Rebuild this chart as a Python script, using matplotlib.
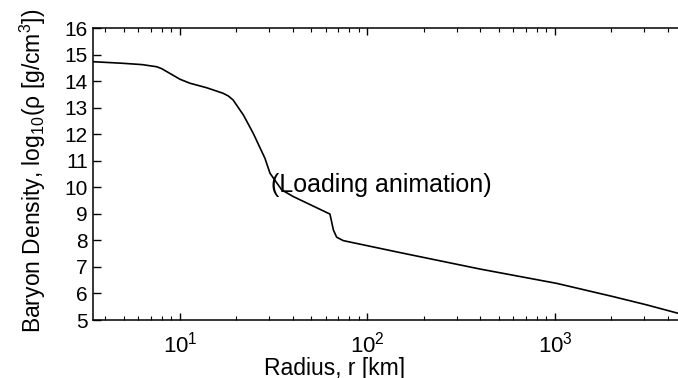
# Libraries:
import numpy as np
import matplotlib
matplotlib.use('Agg')
import matplotlib.pyplot as plt

# Plot configuration:
plt.rc('font', family='Liberation Sans')
plt.rc('mathtext', fontset='custom', rm='Liberation Sans', it='Liberation Sans', bf='Liberation Sans')
plt.rc('xtick', labelsize=16, direction='in')
plt.rc('ytick', labelsize=15, direction='in')
plt.rc('axes', labelsize=16.5, linewidth=1.1)

# Data (radius [km], log10 density [g/cm^3]):
radius = [3.45, 4.97, 6.3, 7.52, 7.98, 8.49, 10.0, 11.3, 13.87, 17.0, 18.1, 19.2, 21.8, 24.6,
          28.4, 30.2, 34.9, 40.2, 63.1, 65.8, 68.5, 74.3, 149, 398, 1021,
          2046, 3083, 4550]
log_rho = [14.73, 14.67, 14.62, 14.54, 14.47, 14.36, 14.07, 13.92, 13.75, 13.54, 13.44, 13.29, 12.72, 12.03,
           11.09, 10.53, 9.90, 9.65, 8.99, 8.39, 8.12, 7.99, 7.54, 6.92, 6.38,
           5.88, 5.57, 5.25]
y_ticks = list(range(5, 17))

W, H = 678, 378
fig = plt.figure(figsize=(W/100, H/100), dpi=100)
ax = fig.add_axes([93.3/W, 58/H, (W-93.3)/W, 292/H])

ax.plot(radius, log_rho, color='black', lw=1.2)
ax.set_xscale('log')
ax.set_xlim(3.45, 4530)
ax.set_ylim(5, 16)
ax.set_yticks(y_ticks)

# Box style like the original (right side is cut off)
ax.spines['right'].set_visible(False)
ax.tick_params(axis='x', which='both', top=True, bottom=True)
ax.tick_params(axis='x', which='major', length=5, width=1, pad=8)
ax.tick_params(axis='x', which='minor', length=3, width=0.8)
ax.tick_params(axis='y', which='major', length=6, width=1, pad=4)

ax.set_xlabel('Radius, r [km]')
ax.set_ylabel('Baryon Density, log$_{10}$(ρ [g/cm$^3$])')
ax.xaxis.set_label_coords((335-93.3)/(W-93.3), -0.125)
ax.yaxis.set_label_coords((48-93.3)/(W-93.3), 0.51)

ax.text(118, 10.09, '(Loading animation)', fontsize=18, ha='center', va='center')

fig.savefig('out.png', dpi=100)
